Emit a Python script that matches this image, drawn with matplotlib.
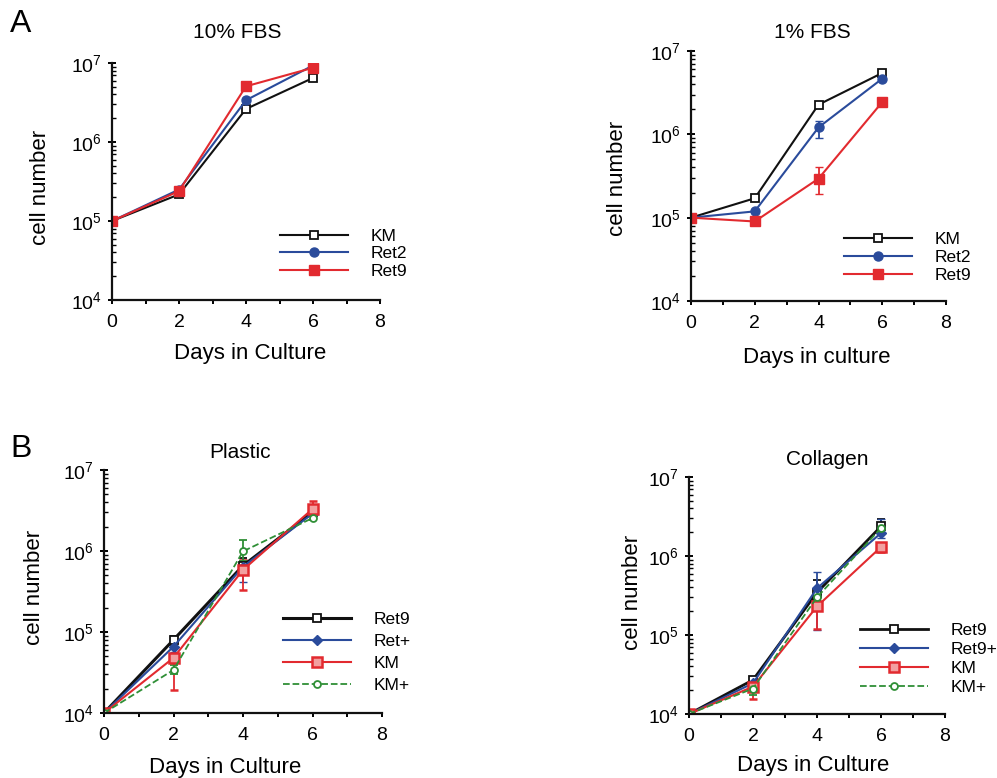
import matplotlib
matplotlib.use("Agg")
import matplotlib.pyplot as plt
from matplotlib.ticker import LogLocator, MultipleLocator, FixedLocator
import numpy as np

plt.rcParams['font.family'] = ['Liberation Sans', 'DejaVu Sans']
plt.rcParams['mathtext.fontset'] = 'custom'
plt.rcParams['mathtext.rm'] = 'Liberation Sans'
plt.rcParams['mathtext.it'] = 'Liberation Sans'

days = [0, 2, 4, 6]

# Panel A, 10% FBS
a1_labels = ['KM', 'Ret2', 'Ret9']
a1_km = [1e5, 2.17e5, 2.62e6, 6.47e6]
a1_ret2 = [1e5, 2.5e5, 3.38e6, 9.3e6]
a1_ret9 = [1e5, 2.39e5, 5.07e6, 8.7e6]

# Panel A, 1% FBS
a2_labels = ['KM', 'Ret2', 'Ret9']
a2_km = [1e5, 1.71e5, 2.27e6, 5.45e6]
a2_ret2 = [1e5, 1.19e5, 1.21e6, 4.66e6]
a2_ret2_lo = [1e5, 1.19e5, 0.91e6, 4.66e6]
a2_ret2_hi = [1e5, 1.19e5, 1.46e6, 4.66e6]
a2_ret9 = [1e5, 9.0e4, 2.94e5, 2.44e6]
a2_ret9_lo = [1e5, 9.0e4, 1.94e5, 2.44e6]
a2_ret9_hi = [1e5, 9.0e4, 4.09e5, 2.44e6]

# Panel B, Plastic
b1_labels = ['Ret9', 'Ret+', 'KM', 'KM+']
b1_ret9 = [1e4, 8.0e4, 6.6e5, 3.0e6]
b1_ret9_lo = [1e4, 6.8e4, 5.0e5, 2.8e6]
b1_ret9_hi = [1e4, 8.8e4, 8.3e5, 3.3e6]
b1_retp = [1e4, 6.6e4, 6.4e5, 2.9e6]
b1_retp_lo = [1e4, 5.6e4, 4.1e5, 2.7e6]
b1_retp_hi = [1e4, 8.0e4, 7.8e5, 3.2e6]
b1_km = [1e4, 4.8e4, 5.85e5, 3.3e6]
b1_km_lo = [1e4, 1.9e4, 3.3e5, 2.9e6]
b1_km_hi = [1e4, 7.3e4, 7.8e5, 4.1e6]
b1_kmp = [1e4, 3.4e4, 9.9e5, 2.55e6]
b1_kmp_lo = [1e4, 3.0e4, 7.5e5, 2.4e6]
b1_kmp_hi = [1e4, 3.9e4, 1.37e6, 2.7e6]

# Panel B, Collagen
b2_labels = ['Ret9', 'Ret9+', 'KM', 'KM+']
b2_ret9 = [1e4, 2.7e4, 3.45e5, 2.37e6]
b2_ret9_lo = [1e4, 2.4e4, 2.8e5, 2.0e6]
b2_ret9_hi = [1e4, 2.8e4, 5.0e5, 2.9e6]
b2_ret9p = [1e4, 2.45e4, 3.9e5, 1.95e6]
b2_ret9p_lo = [1e4, 2.2e4, 1.16e5, 1.7e6]
b2_ret9p_hi = [1e4, 2.7e4, 6.2e5, 2.9e6]
b2_km = [1e4, 2.22e4, 2.3e5, 1.3e6]
b2_km_lo = [1e4, 1.53e4, 1.18e5, 1.14e6]
b2_km_hi = [1e4, 2.6e4, 3.0e5, 1.45e6]
b2_kmp = [1e4, 2.1e4, 3.0e5, 2.26e6]
b2_kmp_lo = [1e4, 1.74e4, 2.6e5, 2.0e6]
b2_kmp_hi = [1e4, 2.4e4, 3.5e5, 2.6e6]

x_ticks = [0, 2, 4, 6, 8]

BLACK = '#111111'
BLUE = '#2a4b9b'
RED = '#e22a2f'
GREEN = '#2f8f36'

W, H = 997, 778
fig = plt.figure(figsize=(W / 100, H / 100), dpi=100)


def ax_at(x0, x1, ytop, ybot):
    return fig.add_axes([x0 / W, 1 - ybot / H, (x1 - x0) / W, (ybot - ytop) / H])


def style(ax):
    ax.set_yscale('log')
    ax.set_xlim(0, 8)
    ax.set_ylim(1e4, 1e7)
    ax.spines['top'].set_visible(False)
    ax.spines['right'].set_visible(False)
    for s in ('left', 'bottom'):
        ax.spines[s].set_linewidth(1.6)
        ax.spines[s].set_color('#111111')
    ax.xaxis.set_major_locator(FixedLocator(x_ticks))
    ax.xaxis.set_minor_locator(MultipleLocator(1))
    ax.yaxis.set_major_locator(LogLocator(base=10, numticks=10))
    ax.yaxis.set_minor_locator(LogLocator(base=10, subs=np.arange(2, 10), numticks=10))
    ax.tick_params(axis='x', which='both', direction='out', length=3, width=1.4,
                   labelsize=14, pad=7)
    ax.tick_params(axis='y', which='major', direction='inout', length=6, width=1.4,
                   labelsize=14, pad=4)
    ax.tick_params(axis='y', which='minor', direction='in', length=3, width=1.0)
    ax.patch.set_alpha(0)


def ftext(x, y, s, size, **kw):
    fig.text(x / W, 1 - y / H, s, fontsize=size, ha='center', va='center', **kw)


def err(vals, lo, hi):
    v = np.array(vals)
    return [v - np.array(lo), np.array(hi) - v]


def legend(ax, handles, labels, x, ytop, spacing):
    ax.legend(handles=handles, labels=labels, loc='upper left',
              bbox_to_anchor=(x / W, 1 - ytop / H),
              bbox_transform=fig.transFigure, frameon=False, fontsize=12.5,
              handlelength=3.9, handletextpad=1.3, labelspacing=spacing,
              borderpad=0, borderaxespad=0)


# ---------- A1 ----------
ax = ax_at(112, 380, 63, 300)
style(ax)
h1, = ax.plot(days, a1_km, color=BLACK, lw=1.5, marker='s', ms=6, mfc='white', mec=BLACK, mew=1.3)
h2, = ax.plot(days, a1_ret2, color=BLUE, lw=1.5, marker='o', ms=6.5, mfc=BLUE, mec=BLUE)
h3, = ax.plot(days, a1_ret9, color=RED, lw=1.5, marker='s', ms=6.5, mfc=RED, mec=RED)
legend(ax, [h1, h2, h3], a1_labels, 280, 229, 0.12)
ftext(237, 32, '10% FBS', 15)
ftext(250, 353, 'Days in Culture', 16)
ftext(40, 187, 'cell number', 16, rotation=90)
ftext(21, 24, 'A', 23)

# ---------- A2 ----------
ax = ax_at(691, 946, 51, 301)
style(ax)
h1, = ax.plot(days, a2_km, color=BLACK, lw=1.5, marker='s', ms=6, mfc='white', mec=BLACK, mew=1.3)
c2 = ax.errorbar(days, a2_ret2, yerr=err(a2_ret2, a2_ret2_lo, a2_ret2_hi), color=BLUE, lw=1.5,
                 marker='o', ms=6.5, mfc=BLUE, mec=BLUE, capsize=3, elinewidth=1.3)
c3 = ax.errorbar(days, a2_ret9, yerr=err(a2_ret9, a2_ret9_lo, a2_ret9_hi), color=RED, lw=1.5,
                 marker='s', ms=6.5, mfc=RED, mec=RED, capsize=3, elinewidth=1.3)
legend(ax, [h1, c2.lines[0], c3.lines[0]], a2_labels, 844, 232, 0.17)
ftext(812, 33, '1% FBS', 15)
ftext(817, 357, 'Days in culture', 16)
ftext(617, 178, 'cell number', 16, rotation=90)

# ---------- B1 ----------
ax = ax_at(104, 382, 470, 713)
style(ax)
c1 = ax.errorbar(days, b1_ret9, yerr=err(b1_ret9, b1_ret9_lo, b1_ret9_hi), color=BLACK, lw=2.2,
                 marker='s', ms=6, mfc='white', mec=BLACK, mew=1.3, capsize=3, elinewidth=1.3)
c2 = ax.errorbar(days, b1_retp, yerr=err(b1_retp, b1_retp_lo, b1_retp_hi), color=BLUE, lw=1.5,
                 marker='D', ms=5, mfc=BLUE, mec=BLUE, capsize=3, elinewidth=1.3)
c3 = ax.errorbar(days, b1_km, yerr=err(b1_km, b1_km_lo, b1_km_hi), color=RED, lw=1.5,
                 marker='s', ms=6.5, mfc='#f2a0a0', mec=RED, mew=1.8, capsize=3, elinewidth=1.3)
c4 = ax.errorbar(days, b1_kmp, yerr=err(b1_kmp, b1_kmp_lo, b1_kmp_hi), color=GREEN, lw=1.3, ls='--',
                 marker='o', ms=5, mfc='white', mec=GREEN, mew=1.3, capsize=3, elinewidth=1.3)
legend(ax, [c.lines[0] for c in (c1, c2, c3, c4)], b1_labels, 283, 612, 0.4)
ftext(240, 453, 'Plastic', 15)
ftext(225, 767, 'Days in Culture', 16)
ftext(35, 587, 'cell number', 16, rotation=90)
ftext(21, 449, 'B', 23)

# ---------- B2 ----------
ax = ax_at(689, 945, 477, 714)
style(ax)
c1 = ax.errorbar(days, b2_ret9, yerr=err(b2_ret9, b2_ret9_lo, b2_ret9_hi), color=BLACK, lw=2.0,
                 marker='s', ms=6, mfc='white', mec=BLACK, mew=1.3, capsize=3, elinewidth=1.3)
c2 = ax.errorbar(days, b2_ret9p, yerr=err(b2_ret9p, b2_ret9p_lo, b2_ret9p_hi), color=BLUE, lw=1.5,
                 marker='D', ms=5, mfc=BLUE, mec=BLUE, capsize=3, elinewidth=1.3)
c3 = ax.errorbar(days, b2_km, yerr=err(b2_km, b2_km_lo, b2_km_hi), color=RED, lw=1.5,
                 marker='s', ms=6.5, mfc='#f2a0a0', mec=RED, mew=1.8, capsize=3, elinewidth=1.3)
c4 = ax.errorbar(days, b2_kmp, yerr=err(b2_kmp, b2_kmp_lo, b2_kmp_hi), color=GREEN, lw=1.3, ls='--',
                 marker='o', ms=5, mfc='white', mec=GREEN, mew=1.3, capsize=3, elinewidth=1.3)
legend(ax, [c.lines[0] for c in (c1, c2, c3, c4)], b2_labels, 860, 623, 0.22)
ftext(827, 460, 'Collagen', 15)
ftext(813, 765, 'Days in Culture', 16)
ftext(632, 592, 'cell number', 16, rotation=90)

fig.savefig('out.png', dpi=100)
